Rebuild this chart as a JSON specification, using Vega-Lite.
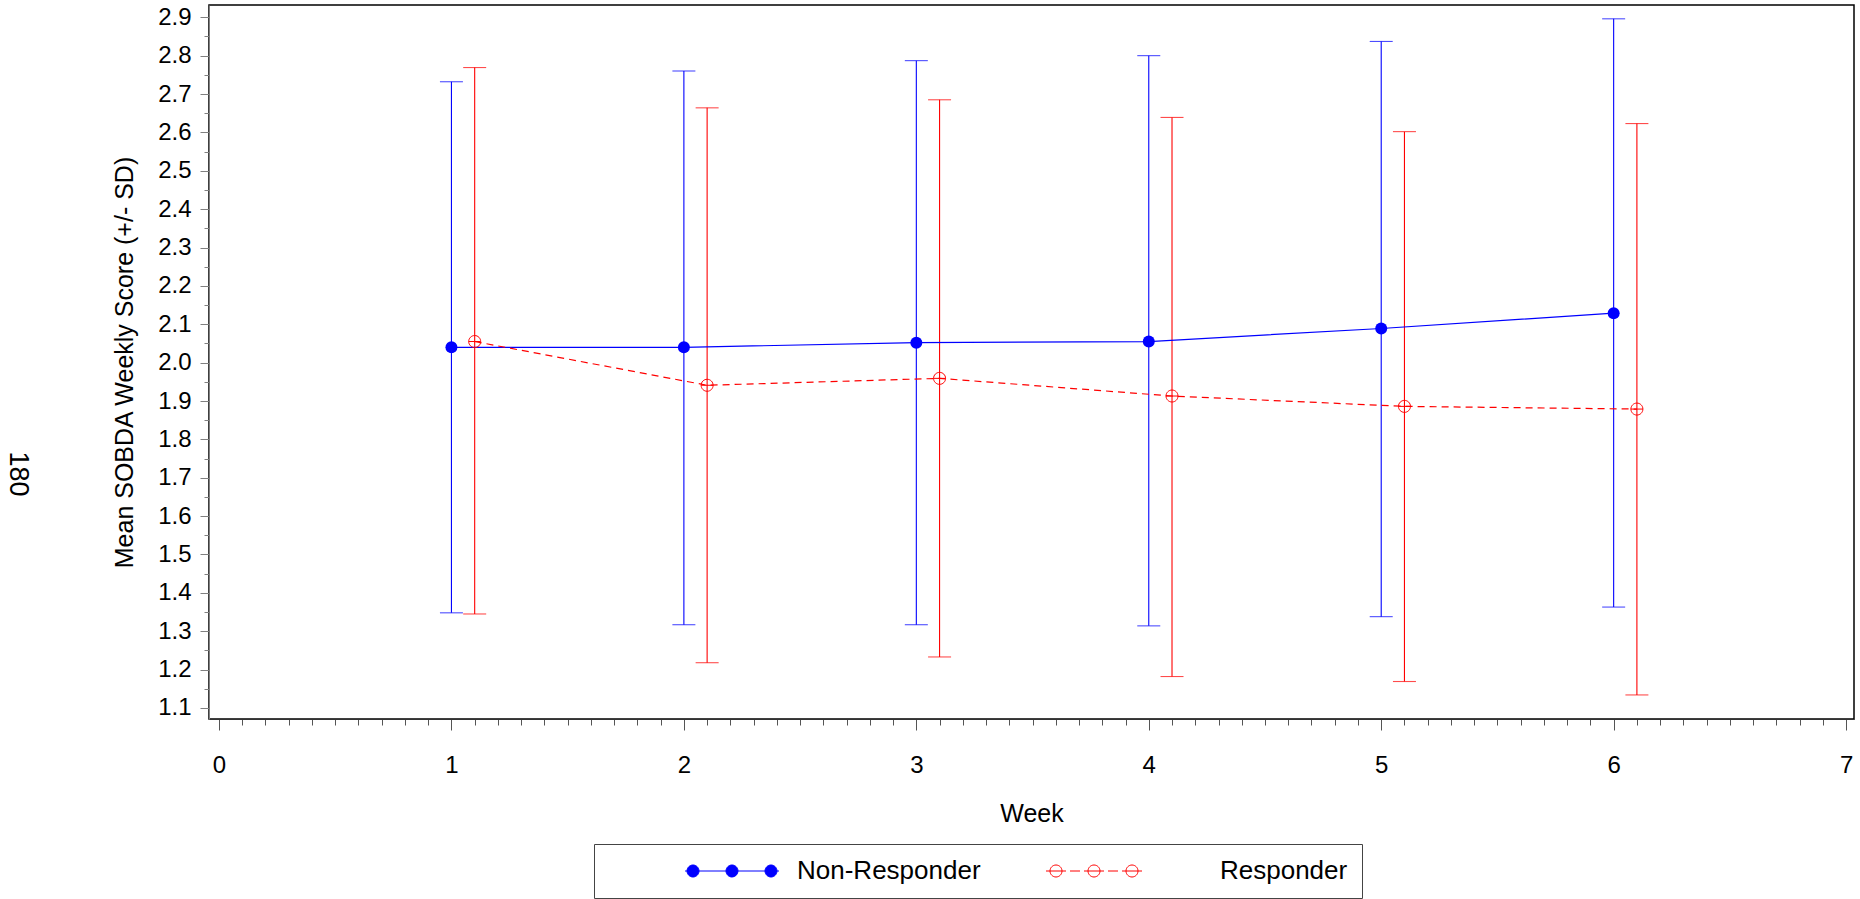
{
  "$schema": "https://vega.github.io/schema/vega-lite/v6.json",
  "width": 1645,
  "height": 714,
  "autosize": {"type": "none"},
  "padding": {"left": 209, "top": 5, "right": 6, "bottom": 180},
  "background": "white",
  "config": {
    "font": "Liberation Sans",
    "view": {"stroke": "#000", "strokeWidth": 1.5},
    "axis": {"grid": false, "labelFont": "Liberation Sans", "titleFont": "Liberation Sans", "labelColor": "#000", "titleColor": "#000", "titleFontWeight": "normal"}
  },
  "title": {"text": "180", "orient": "left", "angle": 90, "fontSize": 27, "fontWeight": "normal", "font": "Liberation Sans", "color": "#000", "anchor": "middle", "offset": 55, "dx": 112},
  "data": {"values": [
    {"group": "Non-Responder", "week": 1, "mean": 2.040, "lo": 1.348, "hi": 2.732},
    {"group": "Non-Responder", "week": 2, "mean": 2.040, "lo": 1.317, "hi": 2.760},
    {"group": "Non-Responder", "week": 3, "mean": 2.052, "lo": 1.317, "hi": 2.787},
    {"group": "Non-Responder", "week": 4, "mean": 2.055, "lo": 1.314, "hi": 2.800},
    {"group": "Non-Responder", "week": 5, "mean": 2.089, "lo": 1.338, "hi": 2.837},
    {"group": "Non-Responder", "week": 6, "mean": 2.129, "lo": 1.363, "hi": 2.896},
    {"group": "Responder", "week": 1, "mean": 2.055, "lo": 1.345, "hi": 2.769},
    {"group": "Responder", "week": 2, "mean": 1.941, "lo": 1.218, "hi": 2.664},
    {"group": "Responder", "week": 3, "mean": 1.959, "lo": 1.233, "hi": 2.685},
    {"group": "Responder", "week": 4, "mean": 1.913, "lo": 1.182, "hi": 2.639},
    {"group": "Responder", "week": 5, "mean": 1.886, "lo": 1.169, "hi": 2.602},
    {"group": "Responder", "week": 6, "mean": 1.879, "lo": 1.134, "hi": 2.623}
  ]},
  "transform": [{"calculate": "datum.week + (datum.group === 'Responder' ? 0.1 : 0)", "as": "xpos"}],
  "encoding": {
    "x": {
      "field": "xpos", "type": "quantitative",
      "scale": {"domain": [-0.043, 7.034], "nice": false, "zero": false},
      "axis": {
        "title": "Week",
        "values": [0,0.1,0.2,0.3,0.4,0.5,0.6,0.7,0.8,0.9,1,1.1,1.2,1.3,1.4,1.5,1.6,1.7,1.8,1.9,2,2.1,2.2,2.3,2.4,2.5,2.6,2.7,2.8,2.9,3,3.1,3.2,3.3,3.4,3.5,3.6,3.7,3.8,3.9,4,4.1,4.2,4.3,4.4,4.5,4.6,4.7,4.8,4.9,5,5.1,5.2,5.3,5.4,5.5,5.6,5.7,5.8,5.9,6,6.1,6.2,6.3,6.4,6.5,6.6,6.7,6.8,6.9,7],
        "labelExpr": "round(datum.value*10) % 10 === 0 ? format(datum.value, 'd') : ''",
        "tickSize": {"condition": {"test": "round(datum.value*10) % 10 === 0", "value": 11}, "value": 6},
        "labelFontSize": 24, "titleFontSize": 25, "labelPadding": 23, "titlePadding": 24,
        "domainColor": "#333", "tickColor": "#555", "labelOverlap": false, "labelFlush": false, "labelBound": false
      }
    },
    "y": {
      "field": "mean", "type": "quantitative",
      "scale": {"domain": [1.0713, 2.932], "nice": false, "zero": false},
      "axis": {
        "title": "Mean SOBDA Weekly Score (+/- SD)",
        "values": [1.1,1.15,1.2,1.25,1.3,1.35,1.4,1.45,1.5,1.55,1.6,1.65,1.7,1.75,1.8,1.85,1.9,1.95,2,2.05,2.1,2.15,2.2,2.25,2.3,2.35,2.4,2.45,2.5,2.55,2.6,2.65,2.7,2.75,2.8,2.85,2.9],
        "labelExpr": "round(datum.value*100) % 10 === 0 ? format(datum.value, '.1f') : ''",
        "tickSize": {"condition": {"test": "round(datum.value*100) % 10 === 0", "value": 9}, "value": 5},
        "labelFontSize": 24, "titleFontSize": 25, "labelPadding": 9, "titlePadding": 20,
        "domainColor": "#808080", "tickColor": "#808080", "labelOverlap": false, "labelFlush": false, "labelBound": false
      }
    }
  },
  "layer": [
    {
      "mark": {"type": "rule", "strokeWidth": 1.1},
      "encoding": {
        "y": {"field": "lo", "type": "quantitative"},
        "y2": {"field": "hi"},
        "color": {
          "field": "group", "type": "nominal",
          "scale": {"domain": ["Non-Responder", "Responder"], "range": ["#0000ff", "#ff0000"]},
          "legend": {
            "title": null, "orient": "none", "legendX": 385, "legendY": 839, "direction": "horizontal",
            "padding": 14, "strokeColor": "#444", "fillColor": "white",
            "labelFontSize": 26, "labelFont": "Liberation Sans", "labelColor": "#000", "labelOffset": 163, "labelLimit": 400,
            "columnPadding": 50, "symbolSize": 400, "symbolStrokeWidth": 1,
            "encode": {"symbols": {"update": {
              "shape": {"signal": "datum.value === 'Responder' ? 'M-1,0M0.2,0L2.2,0M4,0L6,0M7.8,0L9.8,0M2.6,0L3.6,0M6.4,0L7.4,0M0.6,0A0.6,0.6 0 1,0 1.8,0A0.6,0.6 0 1,0 0.6,0ZM4.4,0A0.6,0.6 0 1,0 5.6,0A0.6,0.6 0 1,0 4.4,0ZM8.2,0A0.6,0.6 0 1,0 9.4,0A0.6,0.6 0 1,0 8.2,0Z' : 'M-1,0M6.4,0L15.8,0M6.6,0A0.6,0.6 0 1,0 7.8,0A0.6,0.6 0 1,0 6.6,0ZM10.5,0A0.6,0.6 0 1,0 11.7,0A0.6,0.6 0 1,0 10.5,0ZM14.4,0A0.6,0.6 0 1,0 15.6,0A0.6,0.6 0 1,0 14.4,0Z'"},
              "fill": {"signal": "datum.value === 'Responder' ? '#ffffff' : '#0000ff'"},
              "fillOpacity": {"signal": "datum.value === 'Responder' ? 0 : 1"},
              "stroke": {"signal": "datum.value === 'Responder' ? '#ff0000' : '#0000ff'"},
              "strokeWidth": {"value": 1},
              "opacity": {"value": 1}
            }}}
          }
        }
      }
    },
    {
      "mark": {"type": "tick", "orient": "horizontal", "size": 23, "thickness": 1.1},
      "encoding": {
        "y": {"field": "hi", "type": "quantitative"},
        "color": {"field": "group", "type": "nominal", "legend": null}
      }
    },
    {
      "mark": {"type": "tick", "orient": "horizontal", "size": 23, "thickness": 1.1},
      "encoding": {
        "y": {"field": "lo", "type": "quantitative"},
        "color": {"field": "group", "type": "nominal", "legend": null}
      }
    },
    {
      "transform": [{"filter": "datum.group === 'Non-Responder'"}],
      "mark": {"type": "line", "strokeWidth": 1.2, "color": "#0000ff"},
      "encoding": {}
    },
    {
      "transform": [{"filter": "datum.group === 'Responder'"}],
      "mark": {"type": "line", "strokeWidth": 1.2, "color": "#ff0000", "strokeDash": [7, 5]},
      "encoding": {}
    },
    {
      "transform": [{"filter": "datum.group === 'Non-Responder'"}],
      "mark": {"type": "point", "shape": "circle", "filled": true, "size": 144, "color": "#0000ff", "opacity": 1}
    },
    {
      "transform": [{"filter": "datum.group === 'Responder'"}],
      "mark": {"type": "point", "shape": "M-1,0A1,1 0 1,1 1,0A1,1 0 1,1 -1,0ZM-1,0L1,0", "filled": false, "size": 144, "color": "#ff0000", "strokeWidth": 1, "opacity": 1}
    }
  ]
}
